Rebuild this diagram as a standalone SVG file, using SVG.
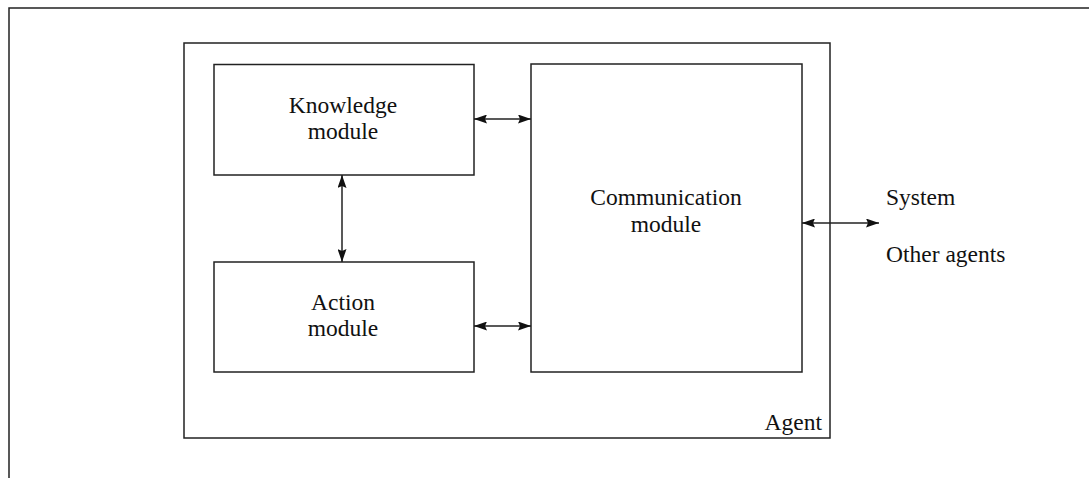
<svg xmlns="http://www.w3.org/2000/svg" width="1089" height="478" viewBox="0 0 1089 478">
<style>
.box{fill:none;stroke:#222;stroke-width:1.5}
.ln{stroke:#222;stroke-width:1.5;fill:none}
text{font-family:"Liberation Serif","Times New Roman",serif;font-size:23.5px;fill:#111}
.c{text-anchor:middle}
</style>
<defs>
<marker id="ah" viewBox="0 0 13 9" refX="13" refY="4.5" markerWidth="13" markerHeight="9" markerUnits="userSpaceOnUse" orient="auto-start-reverse">
<path d="M0,0 L13,4.5 L0,9 L2,4.5 Z" fill="#111"/>
</marker>
</defs>
<g id="frame">
<path class="ln" d="M9,478 V8 H1089"/>
</g>
<g id="agent">
<rect class="box" x="184" y="43" width="646" height="395"/>
<text x="822" y="430" text-anchor="end">Agent</text>
</g>
<g id="knowledge">
<rect class="box" x="214" y="64.5" width="260" height="110.5"/>
<text class="c" x="343" y="113">Knowledge</text>
<text class="c" x="343" y="139">module</text>
</g>
<g id="action">
<rect class="box" x="214" y="262" width="260" height="110"/>
<text class="c" x="343" y="310">Action</text>
<text class="c" x="343" y="336">module</text>
</g>
<g id="communication">
<rect class="box" x="531" y="64" width="271" height="308"/>
<text class="c" x="666" y="205">Communication</text>
<text class="c" x="666" y="232">module</text>
</g>
<g id="external">
<text x="886" y="205">System</text>
<text x="886" y="262">Other agents</text>
</g>
<g id="connectors">
<line class="ln" x1="474" y1="119" x2="531" y2="119" marker-start="url(#ah)" marker-end="url(#ah)"/>
<line class="ln" x1="474" y1="326" x2="531" y2="326" marker-start="url(#ah)" marker-end="url(#ah)"/>
<line class="ln" x1="342" y1="175" x2="342" y2="262" marker-start="url(#ah)" marker-end="url(#ah)"/>
<line class="ln" x1="802" y1="223" x2="879" y2="223" marker-start="url(#ah)" marker-end="url(#ah)"/>
</g>
</svg>
